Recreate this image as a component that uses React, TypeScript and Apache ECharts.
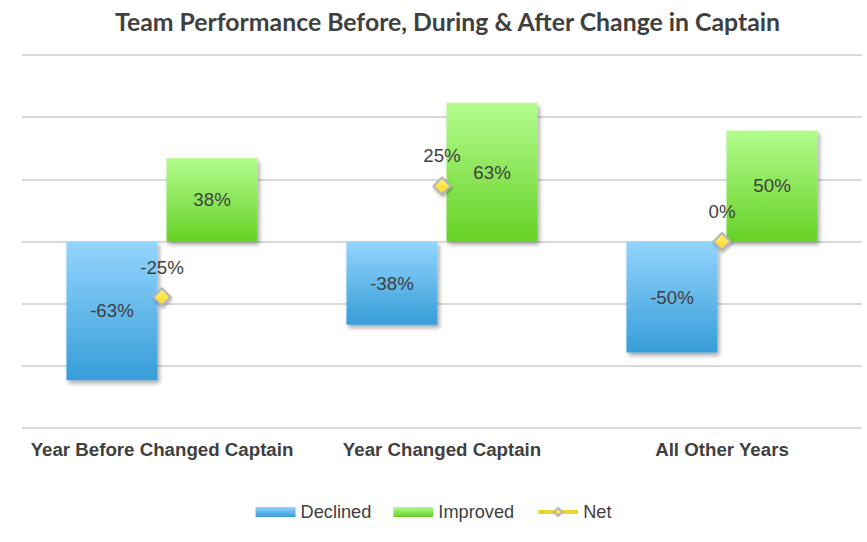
import React, { useEffect, useRef } from "react";
import * as echarts from "echarts";

const categories = ["Year Before Changed Captain", "Year Changed Captain", "All Other Years"];
const declined = [-62.5, -37.5, -50];
const improved = [37.5, 62.5, 50];
const net = [-25, 25, 0];
const titleText = "Team Performance Before, During & After Change in Captain";

const pct = (v: number) => {
  const r = Math.sign(v) * Math.round(Math.abs(v));
  return (r === 0 ? 0 : r) + "%";
};

export default function App() {
  const ref = useRef<HTMLDivElement>(null);
  useEffect(() => {
    const chart = echarts.init(ref.current!, null, { renderer: "svg" });
    const fs = 18.7;
    const labelStyle = {
      show: true,
      position: "inside",
      fontFamily: "Liberation Sans",
      fontSize: fs,
      color: "#404040",
      formatter: (p: any) => pct(p.value),
    };
    const shadow = {
      shadowBlur: 4,
      shadowOffsetX: 2,
      shadowOffsetY: 3,
      shadowColor: "rgba(0,0,0,0.35)",
    };
    chart.setOption({
      animation: false,
      title: {
        text: titleText,
        left: 110,
        top: 4,
        textStyle: { fontFamily: "Lato", fontWeight: "bold", fontSize: 24.8, color: "#404040" },
      },
      grid: { left: 22, right: 5, top: 55, bottom: 114, containLabel: false },
      xAxis: {
        type: "category",
        data: categories,
        axisLine: { show: false, onZero: false },
        axisTick: { show: false },
        axisLabel: {
          interval: 0,
          hideOverlap: false,
          fontFamily: "Liberation Sans",
          fontWeight: "bold",
          fontSize: fs,
          color: "#404040",
          margin: 12,
        },
      },
      yAxis: {
        type: "value",
        min: -84,
        max: 84,
        interval: 28,
        axisLabel: { show: false },
        axisLine: { show: false },
        axisTick: { show: false },
        splitLine: { lineStyle: { color: "#d9d9d9", width: 2 } },
      },
      legend: {
        bottom: 16,
        left: "center",
        itemWidth: 40,
        itemHeight: 10,
        itemGap: 22,
        textStyle: { fontFamily: "Liberation Sans", fontSize: 18.2, color: "#404040" },
        data: [
          { name: "Declined", icon: "rect" },
          { name: "Improved", icon: "rect" },
          {
            name: "Net",
            lineStyle: { color: "#f2d22e", width: 4, opacity: 1 },
          },
        ],
      },
      series: [
        {
          name: "Declined",
          type: "bar",
          data: declined,
          barWidth: 91,
          barGap: "10%",
          itemStyle: {
            color: new echarts.graphic.LinearGradient(0, 0, 0, 1, [
              { offset: 0, color: "#93d5fe" },
              { offset: 1, color: "#379dd8" },
            ]),
            ...shadow,
          },
          label: labelStyle,
        },
        {
          name: "Improved",
          type: "bar",
          data: improved,
          barWidth: 91,
          itemStyle: {
            color: new echarts.graphic.LinearGradient(0, 0, 0, 1, [
              { offset: 0, color: "#b3fc8e" },
              { offset: 1, color: "#66d125" },
            ]),
            ...shadow,
          },
          label: labelStyle,
        },
        {
          name: "Net",
          type: "line",
          data: net,
          z: 5,
          symbol: "diamond",
          symbolSize: 17,
          lineStyle: { opacity: 0, color: "#f2d22e", width: 4 },
          itemStyle: {
            color: new echarts.graphic.LinearGradient(0, 0, 0, 1, [
              { offset: 0, color: "#fff27a" },
              { offset: 1, color: "#ffd81e" },
            ]),
            borderColor: "#b5b5b5",
            borderWidth: 2,
            shadowBlur: 3,
            shadowOffsetX: 1,
            shadowOffsetY: 2,
            shadowColor: "rgba(0,0,0,0.3)",
          },
          label: {
            show: true,
            position: "top",
            distance: 11,
            fontFamily: "Liberation Sans",
            fontSize: fs,
            color: "#404040",
            formatter: (p: any) => pct(p.value),
          },
        },
      ],
    });
    return () => chart.dispose();
  }, []);
  return (
    <div
      ref={ref}
      style={{ position: "fixed", left: 0, top: 0, width: 867, height: 542, background: "#fff" }}
    />
  );
}
